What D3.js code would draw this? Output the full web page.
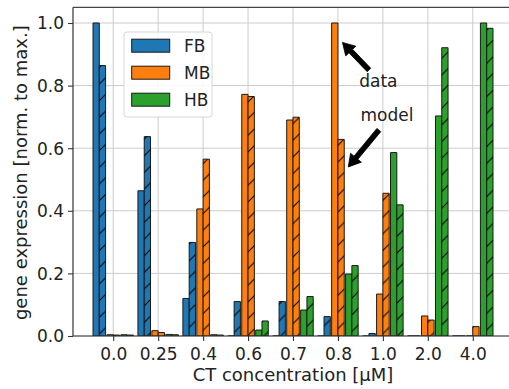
<!DOCTYPE html>
<html>
<head>
<meta charset="utf-8">
<script src="https://cdn.jsdelivr.net/npm/d3@7/dist/d3.min.js"></script>
<style>
  html, body { margin: 0; padding: 0; background: #fff; }
  svg { display: block; font-family: "DejaVu Sans", sans-serif; }
</style>
</head>
<body>
<svg id="chart" width="509" height="389"></svg>
<script>
// CT concentrations (µM) on the x axis
const concentrations = ["0.0", "0.25", "0.4", "0.6", "0.7", "0.8", "1.0", "2.0", "4.0"];

// Normalised gene expression: measured data and model prediction per gene
const fbData  = [1.0, 0.464, 0.12, 0, 0, 0, 0, 0, 0];
const fbModel = [0.864, 0.637, 0.299, 0.11, 0.11, 0.062, 0.008, 0, 0];
const mbData  = [0.004, 0.017, 0.406, 0.772, 0.69, 1.0, 0.134, 0.064, 0];
const mbModel = [0.003, 0.011, 0.565, 0.765, 0.699, 0.628, 0.456, 0.051, 0.03];
const hbData  = [0.004, 0.005, 0.004, 0.019, 0.083, 0.198, 0.586, 0.703, 1.0];
const hbModel = [0.003, 0.004, 0.003, 0.048, 0.126, 0.225, 0.419, 0.921, 0.983];

const genes = ["FB", "MB", "HB"];
const geneColors = ["#1f77b4", "#ff7f0e", "#2ca02c"];
const yTicks = [0, 0.2, 0.4, 0.6, 0.8, 1.0];

const series = [
  { name: "FB", data: fbData, model: fbModel },
  { name: "MB", data: mbData, model: mbModel },
  { name: "HB", data: hbData, model: hbModel }
];

const svg = d3.select("#chart");
const pLeft = 73, pRight = 513, pTop = 7.35, pBottom = 336;

const x = d3.scaleLinear().domain([-0.895, 8.895]).range([pLeft, pRight]);
const y = d3.scaleLinear().domain([0, 1.05]).range([pBottom, pTop]);
const color = d3.scaleOrdinal().domain(genes).range(geneColors);

const barW = 0.14, groupOffset = 0.31;

// hatch pattern for model bars
const defs = svg.append("defs");
const hs = 16.667;
const pat = defs.append("pattern")
  .attr("id", "hatch")
  .attr("patternUnits", "userSpaceOnUse")
  .attr("width", hs).attr("height", hs);
pat.append("path")
  .attr("d", `M0,${hs} L${hs},0 M${-hs/2},${hs/2} L${hs/2},${-hs/2} M${hs/2},${hs*1.5} L${hs*1.5},${hs/2}`)
  .attr("stroke", "#000").attr("stroke-width", 1).attr("fill", "none");

defs.append("clipPath").attr("id", "plotclip")
  .append("rect").attr("x", pLeft).attr("y", pTop).attr("width", pRight - pLeft).attr("height", pBottom - pTop);

// grid (below bars)
const grid = svg.append("g");
grid.selectAll("line.gy").data(yTicks).join("line")
  .attr("x1", pLeft).attr("x2", pRight)
  .attr("y1", d => y(d)).attr("y2", d => y(d))
  .attr("stroke", "#cccccc").attr("stroke-width", 1);
grid.selectAll("line.gx").data(concentrations.map((_, i) => i)).join("line")
  .attr("x1", d => x(d)).attr("x2", d => x(d))
  .attr("y1", pTop).attr("y2", pBottom)
  .attr("stroke", "#cccccc").attr("stroke-width", 1);

// bars drawn as paths so zero-height bars still show their edge
function barPath(x0, x1, v) {
  const y0 = y(0), y1 = y(v);
  return `M${x0},${y0} L${x1},${y0} L${x1},${y1} L${x0},${y1} Z`;
}

const barsG = svg.append("g").attr("clip-path", "url(#plotclip)");
series.forEach((s, si) => {
  const off = (si - 1) * groupOffset;
  const rows = concentrations.map((c, i) => ({ i, data: s.data[i], model: s.model[i] }));
  const g = barsG.append("g");
  g.selectAll("path.data").data(rows).join("path")
    .attr("class", "data")
    .attr("d", d => barPath(x(d.i + off - barW), x(d.i + off), d.data))
    .attr("fill", color(s.name))
    .attr("stroke", "#1a1a1a").attr("stroke-width", 1);
  g.selectAll("path.model").data(rows).join("path")
    .attr("class", "model")
    .attr("d", d => barPath(x(d.i + off), x(d.i + off + barW), d.model))
    .attr("fill", color(s.name))
    .attr("stroke", "#1a1a1a").attr("stroke-width", 1);
  g.selectAll("path.hatch").data(rows).join("path")
    .attr("class", "hatch")
    .attr("d", d => barPath(x(d.i + off), x(d.i + off + barW), d.model))
    .attr("fill", "url(#hatch)")
    .attr("stroke", "none");
});

// axes
const xAxis = d3.axisBottom(x)
  .tickValues(concentrations.map((_, i) => i))
  .tickFormat(i => concentrations[i])
  .tickSize(5).tickPadding(4);
const gx = svg.append("g").attr("transform", `translate(0,${pBottom})`).call(xAxis);
gx.select(".domain").remove();
gx.selectAll(".tick line").attr("stroke", "#333").attr("stroke-width", 1.1);
gx.selectAll(".tick text")
  .attr("font-size", 17).attr("fill", "#222")
  .attr("font-family", "DejaVu Sans, sans-serif")
  .attr("y", 24).attr("dy", 0);

const yAxis = d3.axisLeft(y).tickValues(yTicks).tickFormat(d3.format(".1f"))
  .tickSize(5).tickPadding(4);
const gy = svg.append("g").attr("transform", `translate(${pLeft},0)`).call(yAxis);
gy.select(".domain").remove();
gy.selectAll(".tick line").attr("stroke", "#333").attr("stroke-width", 1.1);
gy.selectAll(".tick text")
  .attr("font-size", 17).attr("fill", "#222")
  .attr("font-family", "DejaVu Sans, sans-serif")
  .attr("dy", "0.35em");

// spines
svg.append("line").attr("x1", pLeft).attr("x2", pLeft).attr("y1", pTop).attr("y2", pBottom)
  .attr("stroke", "#333").attr("stroke-width", 1.2);
svg.append("line").attr("x1", pLeft).attr("x2", pRight).attr("y1", pBottom).attr("y2", pBottom)
  .attr("stroke", "#333").attr("stroke-width", 1.2);
svg.append("line").attr("x1", pLeft).attr("x2", pRight).attr("y1", pTop).attr("y2", pTop)
  .attr("stroke", "#444").attr("stroke-width", 1.2);

// axis labels
svg.append("text")
  .attr("x", (pLeft + pRight) / 2).attr("y", 381)
  .attr("text-anchor", "middle").attr("font-size", 18).attr("fill", "#222")
  .text("CT concentration [µM]");
svg.append("text")
  .attr("transform", `translate(27,${(pTop + pBottom) / 2 + 1}) rotate(-90)`)
  .attr("text-anchor", "middle").attr("font-size", 18).attr("fill", "#222")
  .text("gene expression [norm. to max.]");

// legend
const lg = svg.append("g");
lg.append("rect").attr("x", 124).attr("y", 32).attr("width", 88).attr("height", 85)
  .attr("rx", 3).attr("fill", "#fff").attr("fill-opacity", 0.85)
  .attr("stroke", "#d6d6d6").attr("stroke-width", 1);
genes.forEach((g, i) => {
  const cy = 45.7 + i * 27;
  lg.append("rect").attr("x", 131.7).attr("y", cy - 6.5).attr("width", 38).attr("height", 13)
    .attr("fill", color(g)).attr("stroke", "#1a1a1a").attr("stroke-width", 1);
  lg.append("text").attr("x", 184).attr("y", cy).attr("dy", "0.36em")
    .attr("font-size", 17).attr("fill", "#222").text(g);
});

// annotations: text with a thick arrow pointing at a bar
const annotations = [
  { label: "data",  tx: 5.9,  ty: 0.815, fromX: 5.69, fromY: 0.85, toX: 5.1,  toY: 0.938 },
  { label: "model", tx: 6.09, ty: 0.705, fromX: 5.91, fromY: 0.658, toX: 5.23, toY: 0.54 }
];
function arrowPolygon(x0, y0, x1, y1, shaftW, headW, headL) {
  const dx = x1 - x0, dy = y1 - y0, len = Math.hypot(dx, dy);
  const ux = dx / len, uy = dy / len, px = -uy, py = ux;
  const bx = x1 - ux * headL, by = y1 - uy * headL;
  const pts = [
    [x0 + px * shaftW / 2, y0 + py * shaftW / 2],
    [bx + px * shaftW / 2, by + py * shaftW / 2],
    [bx + px * headW / 2, by + py * headW / 2],
    [x1, y1],
    [bx - px * headW / 2, by - py * headW / 2],
    [bx - px * shaftW / 2, by - py * shaftW / 2],
    [x0 - px * shaftW / 2, y0 - py * shaftW / 2]
  ];
  return "M" + pts.map(p => p.join(",")).join("L") + "Z";
}
annotations.forEach(a => {
  svg.append("path")
    .attr("d", arrowPolygon(x(a.fromX), y(a.fromY), x(a.toX), y(a.toY), 5, 14, 12))
    .attr("fill", "#000").attr("stroke", "#000").attr("stroke-width", 0.8)
    .attr("stroke-linejoin", "miter");
  svg.append("text").attr("x", x(a.tx)).attr("y", y(a.ty)).attr("dy", "0.35em")
    .attr("text-anchor", "middle").attr("font-size", 17).attr("fill", "#222")
    .text(a.label);
});
</script>
</body>
</html>
